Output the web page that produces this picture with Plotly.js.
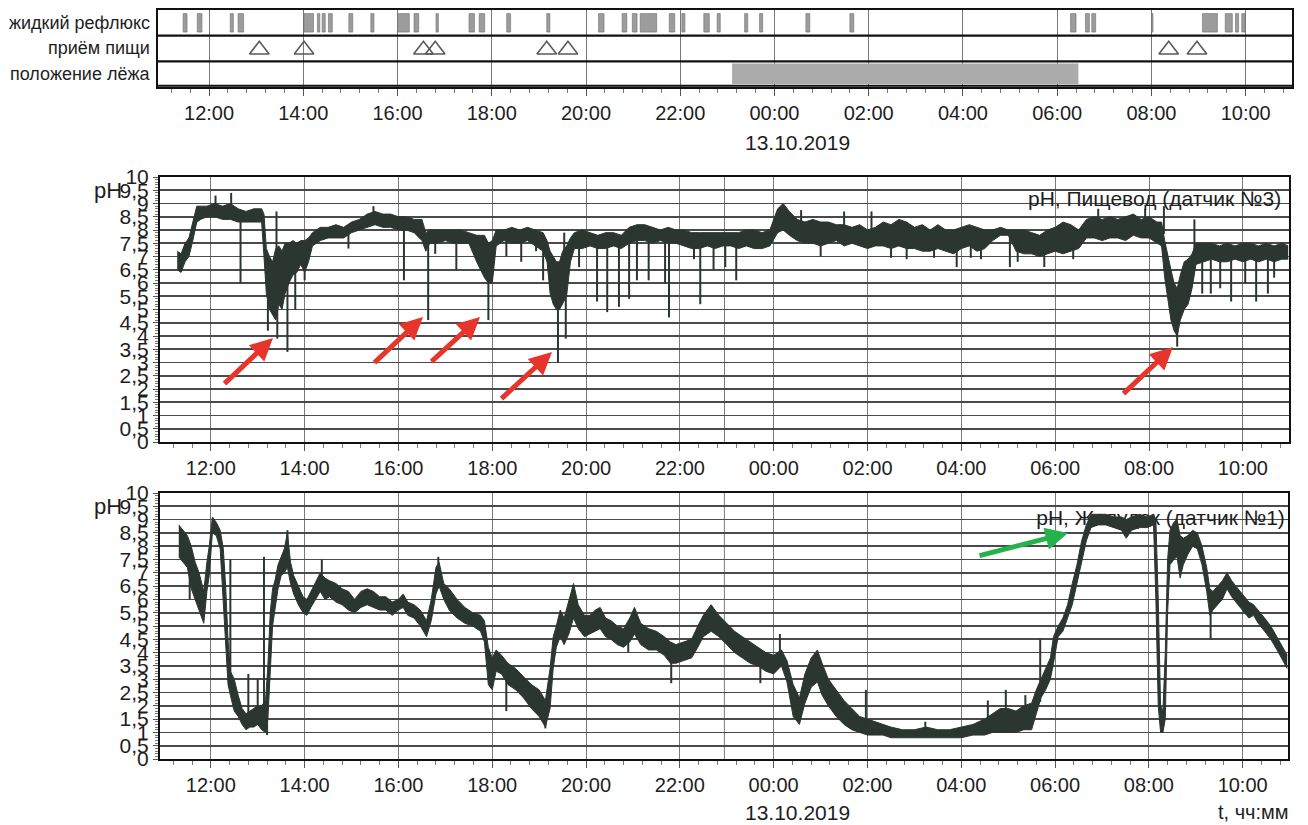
<!DOCTYPE html>
<html><head><meta charset="utf-8">
<script src="https://cdn.plot.ly/plotly-3.0.1.min.js"></script>
<style>html,body{margin:0;padding:0;background:#fff}#chart{width:1308px;height:825px}</style>
</head><body><div id="chart"></div>
<script>
// ---------- Event panel ----------
const rowLabels = ['положение лёжа', 'приём пищи', 'жидкий рефлюкс'];
const refluxStart = ['11:27','11:45','12:27','12:37','14:01','14:18','14:24','14:32','14:58','15:26','16:00','16:21','16:49','17:31','17:44','18:19','19:10','20:16','20:46','20:59','21:09','21:46','22:02','22:30','22:47','23:22','23:41','00:40','01:36','06:17','06:36','06:44','08:00','09:05','09:34','09:47','09:55'];
const refluxEnd   = ['11:32','11:51','12:31','12:44','14:13','14:21','14:28','14:37','15:03','15:30','16:15','16:27','16:52','17:38','17:51','18:24','19:14','20:23','20:52','21:05','21:30','21:53','22:06','22:37','22:51','23:26','23:45','00:45','01:41','06:24','06:41','06:49','08:02','09:24','09:43','09:51','09:59'];
const mealTime = ['13:04','14:01','16:33','16:48','19:10','19:37','08:22','08:58'];
const lyingStart = '23:06';
const lyingEnd = '06:27';

// ---------- Oesophagus pH (sensor 3) ----------
const esoTime = ['11:17','11:22','11:27','11:32','11:37','11:42','11:47','11:55','12:05','12:15','12:25','12:35','12:45','12:55','13:05','13:08','13:11','13:15','13:19','13:23','13:27','13:31','13:35','13:40','13:45','13:50','13:55','14:00','14:05','14:10','14:20','14:30','14:40','14:50','15:00','15:10','15:20','15:30','15:40','15:50','16:00','16:10','16:20','16:30','16:35','16:40','16:50','17:00','17:10','17:20','17:30','17:40','17:45','17:50','17:55','18:00','18:05','18:15','18:25','18:35','18:45','18:55','19:05','19:10','19:14','19:18','19:22','19:26','19:30','19:35','19:40','19:45','19:55','20:05','20:15','20:25','20:35','20:45','20:55','21:05','21:15','21:25','21:35','21:45','21:55','22:05','22:15','22:25','22:35','22:45','22:55','23:05','23:15','23:25','23:35','23:45','23:55','00:05','00:12','00:20','00:30','00:40','00:50','01:00','01:10','01:20','01:30','01:40','01:50','02:00','02:10','02:20','02:30','02:40','02:50','03:00','03:10','03:20','03:30','03:40','03:50','04:00','04:10','04:20','04:30','04:40','04:50','05:00','05:10','05:20','05:30','05:40','05:50','06:00','06:10','06:20','06:30','06:40','06:50','07:00','07:10','07:20','07:30','07:40','07:50','08:00','08:10','08:16','08:20','08:24','08:28','08:32','08:36','08:40','08:45','08:50','08:55','09:00','09:10','09:20','09:30','09:40','09:50','10:00','10:10','10:20','10:30','10:40','10:50','10:58'];
const esoLow  = [6.5,6.4,6.8,7.0,7.6,8.3,8.4,8.5,8.5,8.4,8.4,8.3,8.3,8.3,8.3,7.0,5.6,5.0,4.8,4.6,5.2,5.0,5.6,6.0,6.3,6.4,6.7,6.4,6.8,7.4,7.6,7.7,7.7,7.7,7.9,8.0,8.1,8.2,8.1,8.1,8.0,8.0,7.9,7.6,7.2,7.5,7.5,7.6,7.5,7.5,7.5,6.8,6.5,6.2,6.0,6.0,7.4,7.6,7.5,7.5,7.6,7.4,7.2,6.8,5.6,5.2,5.0,5.0,5.2,5.5,6.8,7.3,7.3,7.4,7.3,7.3,7.4,7.3,7.5,7.6,7.6,7.5,7.6,7.5,7.5,7.4,7.3,7.3,7.4,7.3,7.4,7.4,7.3,7.4,7.3,7.3,7.4,7.9,8.0,7.8,7.6,7.5,7.5,7.4,7.5,7.6,7.4,7.5,7.4,7.3,7.4,7.4,7.3,7.4,7.3,7.3,7.2,7.2,7.3,7.2,7.1,7.3,7.4,7.2,7.3,7.6,7.8,7.8,7.2,7.1,7.1,7.0,7.1,7.2,7.1,7.2,7.3,7.7,7.7,7.6,7.7,7.7,7.6,7.8,7.7,7.7,7.5,7.4,6.2,5.4,4.6,4.2,4.0,4.6,5.0,5.2,5.8,6.7,6.8,6.9,6.8,6.8,6.9,6.8,6.9,6.8,6.9,6.8,6.9,6.9];
const esoHigh = [7.2,7.1,7.5,7.7,8.3,8.9,8.9,8.9,9.0,8.9,9.0,8.8,8.7,8.8,8.8,8.6,7.3,7.0,6.8,7.3,7.4,7.2,7.5,7.5,7.6,7.5,7.6,7.6,7.7,7.9,8.1,8.1,8.2,8.1,8.3,8.4,8.6,8.7,8.6,8.6,8.5,8.5,8.4,8.4,7.9,8.0,8.0,8.0,8.0,8.0,7.9,7.8,7.8,7.8,7.5,7.6,8.0,8.0,8.1,8.0,8.1,8.0,7.9,7.6,7.2,7.0,6.8,6.8,7.2,7.4,7.7,7.9,8.0,7.9,7.8,7.9,7.9,7.8,8.1,8.2,8.2,8.1,8.0,8.1,8.0,8.0,7.9,7.9,7.9,7.9,7.9,7.9,7.9,8.0,8.0,7.9,8.0,8.8,9.0,8.7,8.4,8.3,8.4,8.3,8.3,8.2,8.2,8.1,8.2,8.0,8.1,8.3,8.2,8.4,8.3,8.1,8.2,8.0,8.2,8.0,8.0,8.1,8.2,8.1,8.0,8.0,8.1,8.0,8.0,8.0,7.9,7.8,8.0,8.1,8.3,8.2,8.0,8.4,8.5,8.4,8.5,8.4,8.5,8.6,8.4,8.5,8.3,8.3,7.6,7.0,6.5,6.0,5.8,6.3,6.8,6.9,7.1,7.5,7.5,7.5,7.4,7.5,7.4,7.5,7.5,7.4,7.5,7.4,7.5,7.4];
const esoSpikeTime = ['12:06','12:26','12:38','13:13','13:24','13:25','13:38','13:48','14:00','14:56','15:28','16:07','16:38','16:47','17:14','17:55','18:18','18:37','18:56','19:05','19:24','19:32','19:34','19:51','20:14','20:27','20:42','20:55','21:05','21:20','21:41','21:46','22:18','22:26','22:43','22:58','23:12','00:35','01:00','01:30','02:05','02:30','02:50','03:25','03:54','04:12','04:25','05:02','05:12','05:46','06:23','06:55','07:55','08:19','08:36','08:58','09:08','09:19','09:31','09:45','10:03','10:17','10:32','10:40'];
const esoSpikePh   = [9.3,9.4,6.0,4.2,8.7,3.9,3.4,5.0,6.1,7.3,8.9,6.1,4.6,7.1,6.5,4.6,7.0,6.8,7.2,6.1,3.0,7.9,3.9,6.6,5.3,4.9,5.1,5.4,6.1,6.1,6.0,4.7,6.9,5.2,6.5,6.6,6.1,8.75,7.0,8.7,8.7,6.95,6.9,6.95,6.6,6.95,6.9,6.6,6.8,6.6,6.9,8.8,8.8,8.9,3.6,8.4,5.6,5.6,5.8,5.3,6.0,5.3,5.6,6.2];

// ---------- Stomach pH (sensor 1) ----------
const stoTime = ['11:19','11:25','11:30','11:35','11:40','11:45','11:51','11:55','11:58','12:02','12:07','12:12','12:16','12:19','12:22','12:25','12:30','12:35','12:40','12:45','12:50','12:55','13:00','13:05','13:10','13:13','13:16','13:19','13:22','13:26','13:30','13:34','13:38','13:42','13:46','13:52','13:58','14:03','14:08','14:14','14:20','14:26','14:32','14:40','14:48','14:56','15:04','15:12','15:20','15:28','15:36','15:44','15:52','16:00','16:06','16:12','16:20','16:28','16:36','16:42','16:48','16:52','16:58','17:05','17:15','17:25','17:35','17:45','17:50','17:55','18:00','18:05','18:12','18:20','18:30','18:40','18:50','19:00','19:08','19:14','19:18','19:22','19:27','19:32','19:38','19:44','19:50','19:58','20:05','20:12','20:18','20:25','20:32','20:40','20:48','20:56','21:02','21:10','21:20','21:30','21:40','21:48','21:55','22:05','22:15','22:23','22:30','22:40','22:50','23:00','23:10','23:20','23:30','23:40','23:50','00:00','00:10','00:17','00:25','00:33','00:40','00:48','00:56','01:02','01:10','01:20','01:30','01:40','01:50','02:00','02:10','02:20','02:30','02:45','03:00','03:15','03:30','03:45','04:00','04:15','04:30','04:40','04:50','05:00','05:10','05:20','05:30','05:36','05:42','05:48','05:54','05:58','06:04','06:10','06:16','06:22','06:28','06:34','06:40','06:46','06:55','07:05','07:15','07:25','07:31','07:38','07:48','07:58','08:06','08:09','08:12','08:15','08:18','08:21','08:24','08:27','08:32','08:36','08:40','08:44','08:50','08:56','09:02','09:08','09:14','09:18','09:22','09:28','09:34','09:40','09:46','09:54','10:02','10:08','10:14','10:20','10:28','10:36','10:44','10:50','10:57'];
const stoLow  = [7.6,7.4,7.2,6.4,6.0,5.6,5.1,6.3,6.9,8.5,8.4,7.9,6.0,4.4,2.8,2.4,1.8,1.6,1.3,1.1,1.2,1.2,1.3,1.1,1.0,1.5,3.5,5.0,5.6,6.4,6.9,7.0,7.2,6.6,6.2,5.8,5.5,5.4,5.7,6.0,6.3,6.0,6.1,5.9,5.8,5.6,5.5,5.7,5.8,5.7,5.6,5.6,5.4,5.6,5.7,5.4,5.3,5.0,4.6,5.2,6.2,6.5,6.0,5.6,5.3,5.1,5.0,4.8,4.4,2.8,2.6,3.3,3.2,2.8,2.6,2.3,1.9,1.6,1.2,1.9,3.4,4.2,4.6,4.3,4.7,5.3,4.9,4.6,4.7,4.8,4.9,4.6,4.5,4.3,4.2,4.4,4.7,4.3,4.1,4.1,3.9,3.6,3.6,3.7,3.8,4.2,4.6,4.8,4.6,4.3,4.0,3.8,3.6,3.5,3.3,3.2,3.5,2.9,1.6,1.3,2.1,2.7,2.9,2.4,2.0,1.6,1.3,1.1,1.0,0.9,0.9,0.9,0.8,0.8,0.8,0.8,0.8,0.8,0.8,0.9,0.9,1.0,1.0,1.0,1.0,1.1,1.1,1.7,2.3,2.6,3.0,3.6,4.6,4.8,5.3,5.8,6.6,7.4,8.2,8.7,8.8,8.8,8.7,8.6,8.3,8.6,8.7,8.7,8.8,6.0,2.0,1.0,1.0,1.5,5.5,7.3,7.5,7.6,6.8,7.3,7.7,8.0,7.9,7.3,6.3,5.4,5.6,5.8,6.0,6.4,6.1,5.8,5.5,5.3,5.4,5.1,4.8,4.5,4.1,3.8,3.4];
const stoHigh = [8.8,8.6,8.4,8.0,7.4,7.0,6.3,7.4,8.0,9.1,8.9,8.6,7.9,6.5,4.5,3.3,3.0,2.4,1.9,1.7,1.8,1.9,2.0,2.0,2.2,3.5,5.5,6.4,6.7,7.3,7.6,7.9,8.5,7.4,6.9,6.5,6.1,6.0,6.3,6.6,7.0,6.8,6.7,6.6,6.4,6.3,6.0,6.3,6.4,6.3,6.1,6.1,5.9,6.0,6.2,5.9,5.8,5.6,5.2,6.0,7.2,7.4,6.6,6.4,6.0,5.7,5.5,5.4,5.2,4.2,3.8,4.1,3.9,3.6,3.4,3.1,2.8,2.6,2.2,3.4,4.6,5.0,5.6,5.3,5.9,6.6,5.8,5.4,5.4,5.6,5.7,5.3,5.2,5.0,4.9,5.3,5.7,5.1,4.9,4.8,4.6,4.4,4.3,4.4,4.5,5.0,5.4,5.8,5.4,5.1,4.8,4.6,4.4,4.2,4.0,3.9,4.1,3.7,2.8,2.3,3.2,3.8,4.1,3.6,3.0,2.6,2.2,1.9,1.6,1.5,1.4,1.3,1.2,1.1,1.1,1.2,1.1,1.1,1.2,1.3,1.5,1.7,1.9,1.9,1.8,2.0,2.1,2.6,3.0,3.4,3.8,4.6,5.0,5.3,5.8,6.6,7.3,8.2,8.8,9.2,9.2,9.2,9.1,9.1,9.0,9.1,9.2,9.1,9.2,9.0,6.0,2.0,1.8,4.0,7.5,8.6,8.9,9.0,8.4,8.3,8.4,8.6,8.5,8.0,7.2,6.4,6.3,6.5,6.7,7.0,6.7,6.4,6.1,5.9,5.8,5.6,5.3,5.0,4.6,4.3,3.9];
const stoSpikeTime = ['11:33','12:25','12:48','13:00','13:08','13:12','13:38','14:22','16:51','18:18','19:08','20:54','21:49','23:43','00:08','01:58','03:14','04:34','04:57','05:22','05:41','09:19'];
const stoSpikePh   = [6.0,7.5,3.2,3.0,7.6,0.9,8.6,7.5,7.6,1.8,1.15,4.0,2.85,2.85,4.7,2.6,1.4,2.2,2.6,2.4,4.5,4.5];

// ---------- Axis labels ----------
const phTickVals = [0,0.5,1,1.5,2,2.5,3,3.5,4,4.5,5,5.5,6,6.5,7,7.5,8,8.5,9,9.5,10];
const phTickText = ['0','0,5','1','1,5','2','2,5','3','3,5','4','4,5','5','5,5','6','6,5','7','7,5','8','8,5','9','9,5','10'];
const dateLabel = '13.10.2019';
const markerLineTime = '22:57';
const esoLabel = 'pH, Пищевод (датчик №3)';
const stoLabel = 'pH, Желудок (датчик №1)';

// ---------- helpers ----------
function toDate(hm){ return (parseInt(hm,10) < 11 ? '2019-10-13 ' : '2019-10-12 ') + hm; }
function toMs(hm){ return Date.parse(toDate(hm).replace(' ','T') + ':00Z'); }

const W = 1308, H = 825;
const px = v => v / W, py = v => 1 - v / H;
const FONT = 'Liberation Sans, Arial, sans-serif';
const INK = '#2c3631';
const TXT = '#1e1e1e';

function bandTraces(times, lo, hi, xa, ya){
  const x = times.map(toDate);
  return [
    {type:'scatter', mode:'lines', x:x, y:lo, xaxis:xa, yaxis:ya, line:{color:INK, width:1}, hoverinfo:'skip', showlegend:false},
    {type:'scatter', mode:'lines', x:x, y:hi, xaxis:xa, yaxis:ya, fill:'tonexty', fillcolor:INK, line:{color:INK, width:1}, hoverinfo:'skip', showlegend:false}
  ];
}
function spikeTrace(times, lo, hi, sT, sV, xa, ya){
  const ms = times.map(toMs);
  const x = [], y = [];
  sT.forEach((t, k) => {
    const m = toMs(t);
    let i = 0;
    while (i < ms.length - 1 && ms[i + 1] <= m) i++;
    const mid = (lo[i] + hi[i]) / 2;
    x.push(toDate(t), toDate(t), null);
    y.push(mid, sV[k], null);
  });
  return {type:'scatter', mode:'lines', x:x, y:y, xaxis:xa, yaxis:ya, line:{color:INK, width:2}, hoverinfo:'skip', showlegend:false, connectgaps:false};
}

const traces = [];
// reflux bars
traces.push({
  type:'bar', xaxis:'x', yaxis:'y',
  x: refluxStart.map((s,i) => (toMs(s) + toMs(refluxEnd[i])) / 2),
  width: refluxStart.map((s,i) => toMs(refluxEnd[i]) - toMs(s)),
  y: refluxStart.map(() => 0.72), base: refluxStart.map(() => 2.14),
  marker:{color:'#9c9c9c', line:{color:'#6e6e6e', width:0.6}}, hoverinfo:'skip', showlegend:false
});
// lying position
traces.push({
  type:'bar', xaxis:'x', yaxis:'y',
  x:[(toMs(lyingStart) + toMs(lyingEnd)) / 2], width:[toMs(lyingEnd) - toMs(lyingStart)],
  y:[0.8], base:[0.12], marker:{color:'#ababab', line:{width:0}}, hoverinfo:'skip', showlegend:false
});
// meals
traces.push({
  type:'scatter', mode:'markers', xaxis:'x', yaxis:'y',
  x: mealTime.map(toDate), y: mealTime.map(() => 1.45),
  marker:{symbol:'triangle-up-open', size:17, color:'#5a5a5a', line:{width:1.6, color:'#5a5a5a'}},
  hoverinfo:'skip', showlegend:false
});
traces.push(...bandTraces(esoTime, esoLow, esoHigh, 'x2', 'y2'));
traces.push(spikeTrace(esoTime, esoLow, esoHigh, esoSpikeTime, esoSpikePh, 'x2', 'y2'));
// stomach label sits under the trace, as in the original printout
traces.push({type:'scatter', mode:'text', xaxis:'x3', yaxis:'y3', x:['2019-10-13 10:54'], y:[9.0], text:[stoLabel],
  textposition:'middle left', textfont:{family:FONT, size:21, color:TXT}, hoverinfo:'skip', showlegend:false, cliponaxis:false});
traces.push(...bandTraces(stoTime, stoLow, stoHigh, 'x3', 'y3'));
traces.push(spikeTrace(stoTime, stoLow, stoHigh, stoSpikeTime, stoSpikePh, 'x3', 'y3'));

function timeAxis(dom, anchor, range){
  return {
    type:'date', domain:dom, anchor:anchor, range:range,
    tickmode:'linear', tick0:'2019-10-12 12:00', dtick:7200000, tickformat:'%H:%M',
    ticks:'outside', ticklen:7, tickwidth:1, tickcolor:'#555', ticklabelstandoff:0,
    tickfont:{family:FONT, size:20, color:TXT},
    showgrid:true, gridcolor:'#7a7a7a', gridwidth:1,
    minor:{dtick:1440000, tick0:'2019-10-12 12:00', ticks:'outside', ticklen:4, tickcolor:'#777', showgrid:false},
    showline:true, mirror:true, linecolor:'#111', linewidth:2, zeroline:false, fixedrange:true
  };
}
function phAxis(dom, anchor){
  return {
    domain:dom, anchor:anchor, range:[0,10], tickmode:'array', tickvals:phTickVals, ticktext:phTickText,
    ticks:'outside', ticklen:5, tickcolor:'#555', tickfont:{family:FONT, size:21, color:TXT},
    minor:{dtick:0.1, tick0:0, ticks:'outside', ticklen:3, tickcolor:'#777', showgrid:false},
    showgrid:true, gridcolor:'#4a4a4a', gridwidth:1.6,
    showline:true, mirror:true, linecolor:'#111', linewidth:2, zeroline:false, fixedrange:true
  };
}

const layout = {
  width:W, height:H, margin:{l:0, r:0, t:0, b:0},
  paper_bgcolor:'#ffffff', plot_bgcolor:'#ffffff', barmode:'overlay', showlegend:false,
  font:{family:FONT, color:TXT},
  xaxis: timeAxis([px(158), px(1292)], 'y', ['2019-10-12 10:55','2019-10-13 10:59']),
  yaxis: {domain:[py(87), py(10)], anchor:'x', range:[0,3], showticklabels:false, ticks:'', showgrid:false,
          showline:true, mirror:true, linecolor:'#111', linewidth:2, zeroline:false, fixedrange:true},
  xaxis2: timeAxis([px(160), px(1289)], 'y2', ['2019-10-12 10:55','2019-10-13 10:59']),
  yaxis2: phAxis([py(442), py(177)], 'x2'),
  xaxis3: timeAxis([px(160), px(1288)], 'y3', ['2019-10-12 10:55','2019-10-13 10:58']),
  yaxis3: phAxis([py(759), py(493)], 'x3'),
  shapes: [
    {type:'line', xref:'x domain', yref:'y', x0:0, x1:1, y0:1, y1:1, line:{color:'#111', width:2.2}},
    {type:'line', xref:'x domain', yref:'y', x0:0, x1:1, y0:2, y1:2, line:{color:'#111', width:2.2}},
    {type:'line', xref:'x domain', yref:'y', x0:0, x1:1, y0:0.05, y1:0.05, line:{color:'#111', width:2}},
    {type:'line', xref:'x2', yref:'y2 domain', x0:toDate(markerLineTime), x1:toDate(markerLineTime), y0:0, y1:1, line:{color:'#7a7a7a', width:1}, layer:'below'},
    {type:'line', xref:'x3', yref:'y3 domain', x0:toDate(markerLineTime), x1:toDate(markerLineTime), y0:0, y1:1, line:{color:'#7a7a7a', width:1}, layer:'below'}
  ],
  annotations: []
};

const ann = layout.annotations;
const txt = (x, y, text, size, xanchor) => ann.push({xref:'paper', yref:'paper', x:px(x), y:py(y), xanchor:xanchor || 'center', yanchor:'middle',
  text:text, showarrow:false, font:{family:FONT, size:size, color:TXT}});
// row labels
[0.5, 1.5, 2.5].forEach((yy, i) => ann.push({xref:'paper', yref:'y', x:px(152), y:yy, xanchor:'right', yanchor:'middle',
  text:rowLabels[i], showarrow:false, font:{family:FONT, size:18, color:TXT}}));
txt(797, 142, dateLabel, 21);
txt(797, 812, dateLabel, 21);
txt(1291, 812, 't, чч:мм', 20, 'right');
txt(124, 190, 'pH', 22, 'right');
txt(124, 507, 'pH', 22, 'right');
txt(1283, 198, esoLabel, 21, 'right');
// arrows [headX, headY, tailX, tailY]
const redArrows = [[273,338,223,385],[423,317,373,364],[480,317,430,363],[552,352,500,400],[1173,347,1122,395]];
redArrows.forEach(a => ann.push({xref:'paper', yref:'paper', x:px(a[0]), y:py(a[1]), ax:a[2]-a[0], ay:a[3]-a[1],
  text:'', showarrow:true, arrowhead:2, arrowsize:0.9, arrowwidth:5, arrowcolor:'#e8352b', standoff:0}));
ann.push({xref:'paper', yref:'paper', x:px(1068), y:py(533), ax:978-1068, ay:556-533,
  text:'', showarrow:true, arrowhead:2, arrowsize:0.9, arrowwidth:5, arrowcolor:'#25b14c', standoff:0});

Plotly.newPlot('chart', traces, layout, {displayModeBar:false, staticPlot:true});
</script>
</body></html>
